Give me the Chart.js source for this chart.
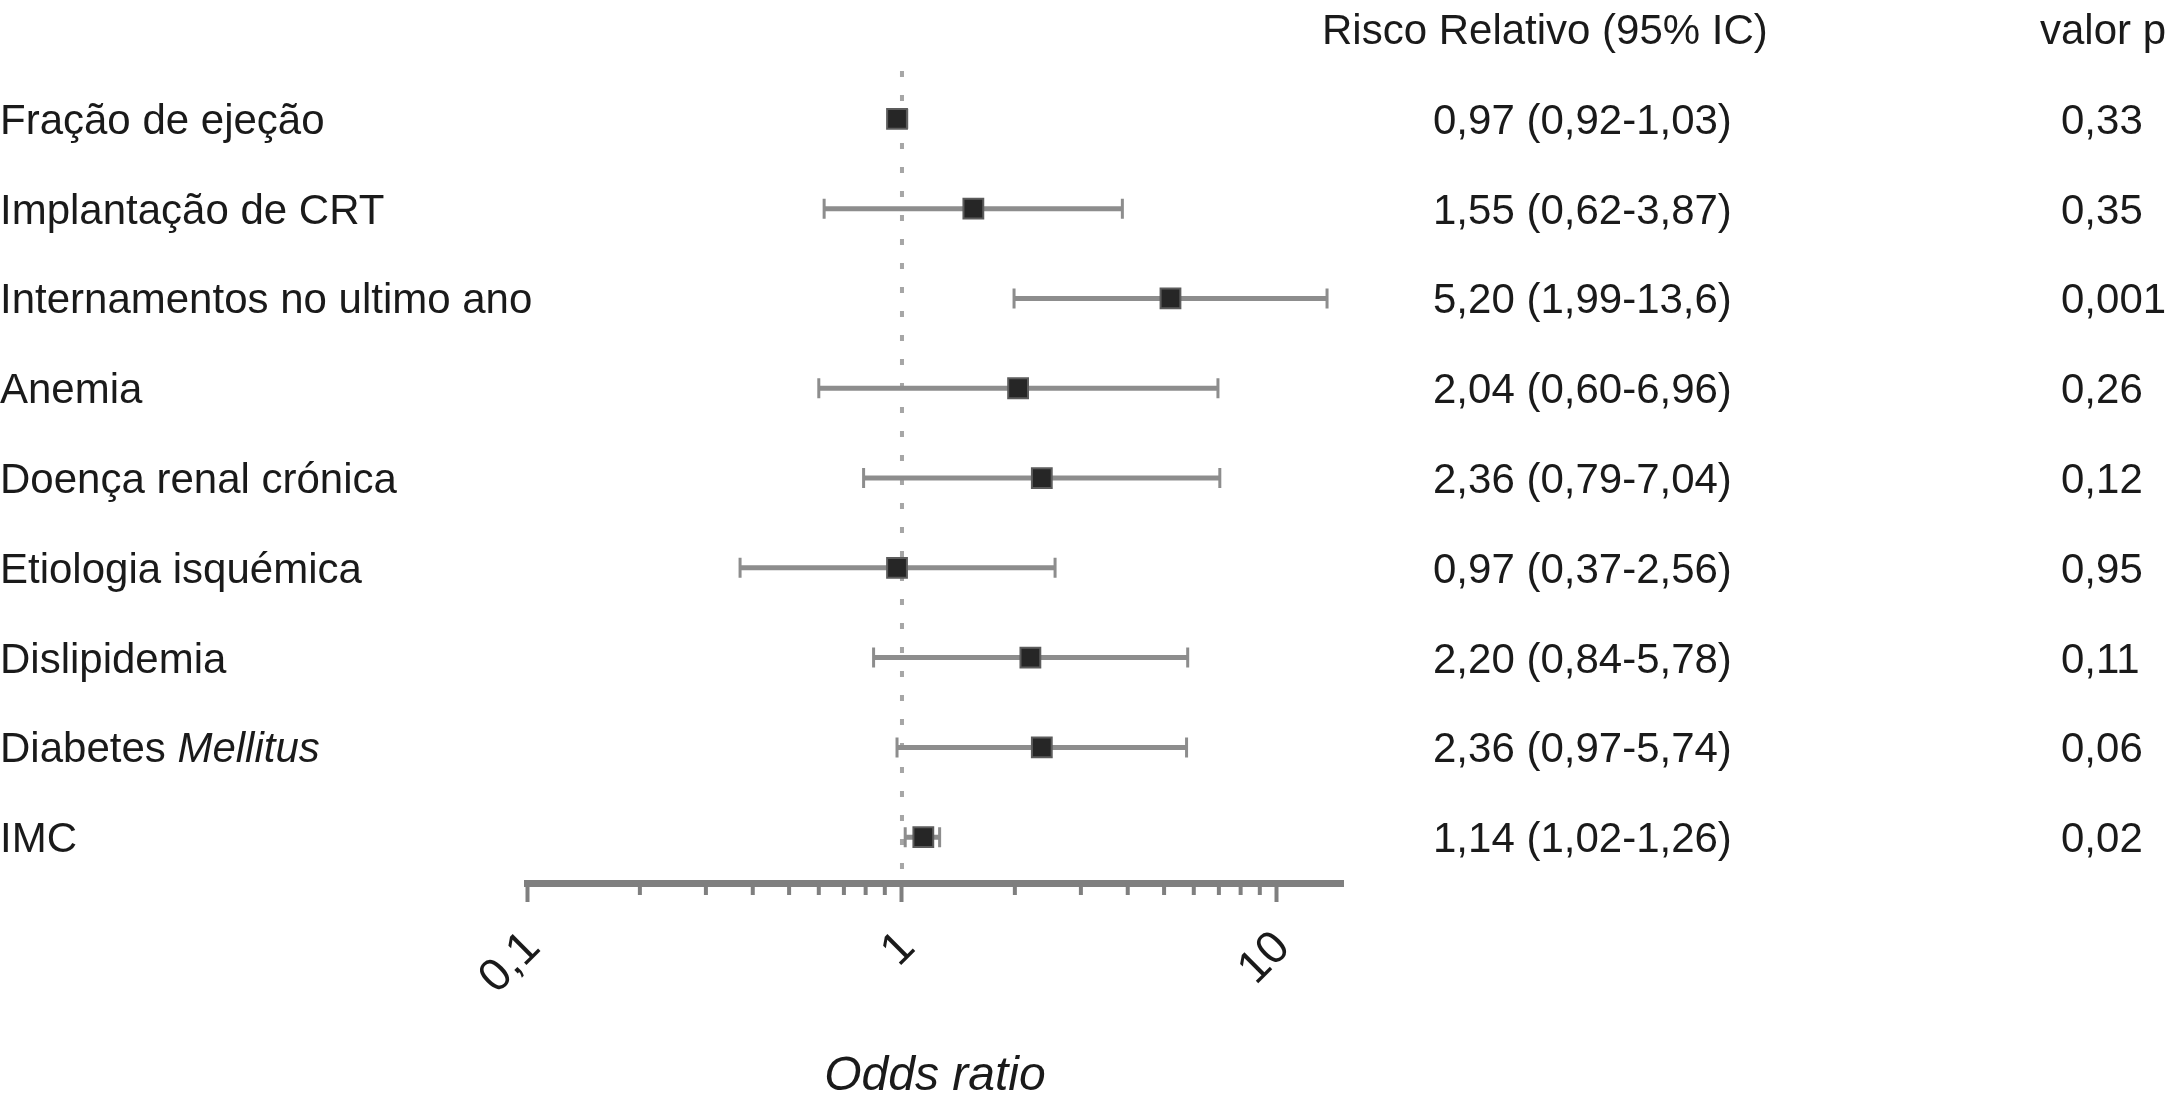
<!DOCTYPE html>
<html>
<head>
<meta charset="utf-8">
<title>Forest plot</title>
<script src="https://cdn.jsdelivr.net/npm/chart.js@4.4.1/dist/chart.umd.min.js"></script>
<style>
  html, body { margin: 0; padding: 0; background: #fff; }
  canvas { display: block; }
</style>
</head>
<body>
<canvas id="forest" width="2166" height="1105"></canvas>
<script>
// ---- data ----
var factors = [
  'Fração de ejeção',
  'Implantação de CRT',
  'Internamentos no ultimo ano',
  'Anemia',
  'Doença renal crónica',
  'Etiologia isquémica',
  'Dislipidemia',
  'Diabetes Mellitus',
  'IMC'
];
var ratio = [0.97, 1.55, 5.20, 2.04, 2.36, 0.97, 2.20, 2.36, 1.14];
var lower = [0.92, 0.62, 1.99, 0.60, 0.79, 0.37, 0.84, 0.97, 1.02];
var upper = [1.03, 3.87, 13.6, 6.96, 7.04, 2.56, 5.78, 5.74, 1.26];
var rrText = [
  '0,97 (0,92-1,03)',
  '1,55 (0,62-3,87)',
  '5,20 (1,99-13,6)',
  '2,04 (0,60-6,96)',
  '2,36 (0,79-7,04)',
  '0,97 (0,37-2,56)',
  '2,20 (0,84-5,78)',
  '2,36 (0,97-5,74)',
  '1,14 (1,02-1,26)'
];
var pValues = ['0,33', '0,35', '0,001', '0,26', '0,12', '0,95', '0,11', '0,06', '0,02'];
var majorTicks = [0.1, 1, 10];
var minorTicks = [0.2, 0.3, 0.4, 0.5, 0.6, 0.7, 0.8, 0.9, 2, 3, 4, 5, 6, 7, 8, 9];
var refValue = 1;

var italicWords = ['Mellitus'];
var FONT = '"Liberation Sans", Arial, Helvetica, sans-serif';
var TEXT = '#1a1a1a';
var AXIS = '#7f7f7f';
var SIZE = 42;

// labels with an italic word (Diabetes Mellitus)
function drawLabel(ctx, str, x, y) {
  var words = str.split(' ');
  words.forEach(function(w, i) {
    var it = italicWords.indexOf(w) >= 0;
    ctx.font = (it ? 'italic ' : '') + SIZE + 'px ' + FONT;
    var t = w + (i < words.length - 1 ? ' ' : '');
    ctx.fillText(t, x, y);
    x += ctx.measureText(t).width;
  });
}

var forestPlugin = {
  id: 'forest',
  beforeDatasetsDraw: function(chart) {
    var ctx = chart.ctx, xs = chart.scales.x, ys = chart.scales.y, area = chart.chartArea;
    ctx.save();

    // dotted line at OR = 1
    var rx = xs.getPixelForValue(refValue);
    ctx.strokeStyle = '#a6a6a6';
    ctx.lineWidth = 4;
    ctx.setLineDash([6, 18]);
    ctx.beginPath();
    ctx.moveTo(rx, area.top + 6);
    ctx.lineTo(rx, area.bottom);
    ctx.stroke();
    ctx.setLineDash([]);

    // confidence intervals
    ctx.strokeStyle = '#8d8d8d';
    for (var i = 0; i < factors.length; i++) {
      var py = ys.getPixelForValue(i);
      var x0 = xs.getPixelForValue(lower[i]);
      var x1 = xs.getPixelForValue(upper[i]);
      ctx.lineWidth = 5;
      ctx.beginPath();
      ctx.moveTo(x0, py);
      ctx.lineTo(x1, py);
      ctx.stroke();
      ctx.lineWidth = 3;
      ctx.beginPath();
      ctx.moveTo(x0, py - 10);
      ctx.lineTo(x0, py + 10);
      ctx.moveTo(x1, py - 10);
      ctx.lineTo(x1, py + 10);
      ctx.stroke();
    }
    ctx.restore();
  },
  afterDraw: function(chart) {
    var ctx = chart.ctx, xs = chart.scales.x, ys = chart.scales.y, area = chart.chartArea;
    ctx.save();

    // minor ticks under the axis
    ctx.strokeStyle = AXIS;
    ctx.lineWidth = 4;
    ctx.beginPath();
    minorTicks.forEach(function(v) {
      var tx = xs.getPixelForValue(v);
      ctx.moveTo(tx, area.bottom);
      ctx.lineTo(tx, area.bottom + 12);
    });
    ctx.stroke();

    // text columns
    ctx.fillStyle = TEXT;
    ctx.textBaseline = 'alphabetic';
    ctx.textAlign = 'left';
    var hy = ys.getPixelForValue(-1) + 15;
    ctx.font = SIZE + 'px ' + FONT;
    ctx.fillText('Risco Relativo (95% IC)', 1322, hy);
    ctx.fillText('valor p', 2040, hy);

    for (var i = 0; i < factors.length; i++) {
      var by = ys.getPixelForValue(i) + 15;
      drawLabel(ctx, factors[i], 0, by);
      ctx.font = SIZE + 'px ' + FONT;
      ctx.fillText(rrText[i], 1433, by);
      ctx.fillText(pValues[i], 2061, by);
    }
    ctx.restore();
  }
};

new Chart(document.getElementById('forest').getContext('2d'), {
  type: 'scatter',
  data: {
    datasets: [{
      data: ratio.map(function(v, i) { return { x: v, y: i }; }),
      pointStyle: 'rect',
      pointRadius: 14,
      pointHoverRadius: 14,
      backgroundColor: '#262626',
      borderColor: '#5c5c5c',
      borderWidth: 2
    }]
  },
  options: {
    responsive: false,
    devicePixelRatio: 1,
    animation: false,
    layout: { padding: { left: 527, right: 823, top: 65, bottom: 0 } },
    plugins: {
      legend: { display: false },
      tooltip: { enabled: false }
    },
    scales: {
      x: {
        type: 'logarithmic',
        position: 'bottom',
        min: 0.1,
        max: 15,
        afterBuildTicks: function(scale) {
          scale.ticks = majorTicks.map(function(v) { return { value: v, major: true }; });
        },
        afterFit: function(scale) { scale.height = 222; },
        border: { display: true, color: AXIS, width: 7 },
        grid: { drawOnChartArea: false, drawTicks: true, tickLength: 19, tickWidth: 4, tickColor: AXIS },
        ticks: {
          autoSkip: false,
          minRotation: 45,
          maxRotation: 45,
          padding: 19,
          labelOffset: 6,
          color: TEXT,
          font: { family: FONT, size: 46 },
          callback: function(v) { return String(v).replace('.', ','); }
        },
        title: {
          display: true,
          text: 'Odds ratio',
          color: TEXT,
          padding: 0,
          font: { family: FONT, size: 48, style: 'italic' }
        }
      },
      y: {
        type: 'linear',
        display: false,
        reverse: true,
        min: -0.6,
        max: 8.51
      }
    }
  },
  plugins: [forestPlugin]
});
</script>
</body>
</html>
